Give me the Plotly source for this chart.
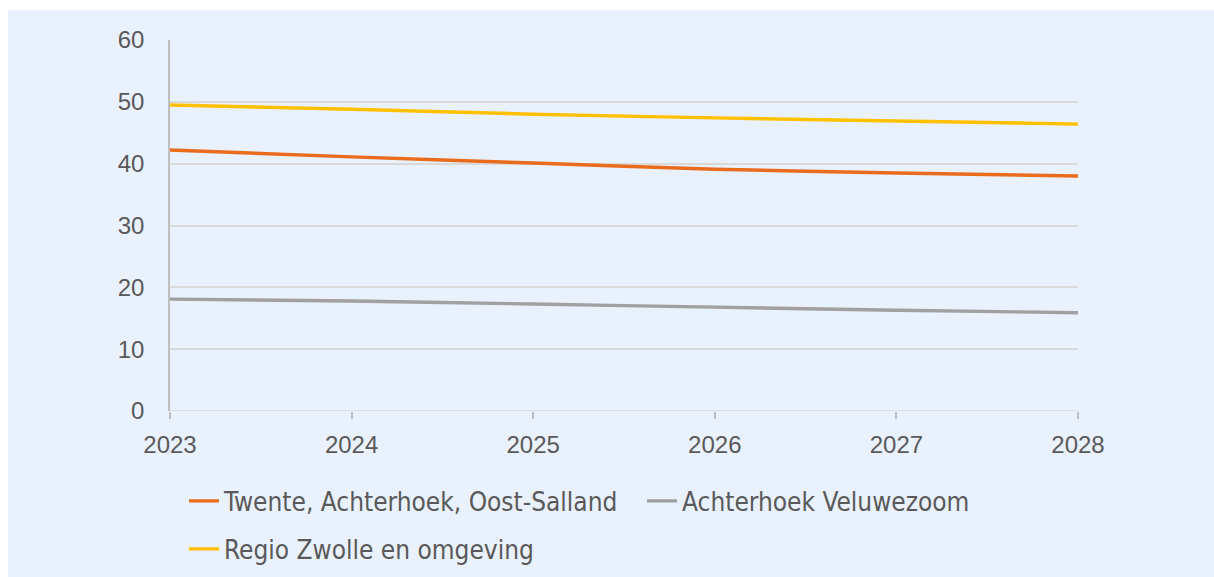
import plotly.graph_objects as go

years = [2023, 2024, 2025, 2026, 2027, 2028]
twente = [42.2, 41.1, 40.1, 39.1, 38.5, 38.0]
achterhoek_vz = [18.1, 17.8, 17.3, 16.8, 16.3, 15.9]
zwolle = [49.5, 48.8, 48.0, 47.4, 46.9, 46.4]

names = ["Twente, Achterhoek, Oost-Salland", "Achterhoek Veluwezoom", "Regio Zwolle en omgeving"]
colors = ["#EA6B1C", "#A0A0A0", "#FFC000"]
series = [twente, achterhoek_vz, zwolle]
legends = ["legend", "legend2", "legend3"]

OFF = 0  # page body margin removed via post_script
W, H = 1214, 577
L, R, T, B = 170, 1078, 40, 411
BG = "#E9F1FD"
TXT = "#595959"
LEGFONT = "DejaVu Sans Condensed, Liberation Sans Narrow, Arial Narrow, sans-serif"

fig = go.Figure()
for n, c, s, lg in zip(names, colors, series, legends):
    fig.add_trace(go.Scatter(x=years, y=s, name=n, mode="lines", legend=lg,
                             line=dict(color=c, width=3.4, shape="spline", smoothing=0.6)))

pw, ph = R - L, B - T
def px2x(p): return (p - OFF - L) / pw
def py2y(p): return (B - (p - OFF)) / ph

fig.add_shape(type="rect", xref="paper", yref="paper", layer="below",
              x0=px2x(8), x1=px2x(1214 + 30), y0=py2y(577 + 20), y1=py2y(10),
              fillcolor=BG, line=dict(width=0))

legfont = dict(family=LEGFONT, size=26, color=TXT)
def leg(xp, yp):
    return dict(orientation="h", x=px2x(xp), xanchor="left", y=py2y(yp), yanchor="middle",
                font=legfont, bgcolor="rgba(0,0,0,0)")

fig.update_layout(
    width=W, height=H,
    margin=dict(l=L, r=W - R, t=T, b=H - B, pad=0, autoexpand=False),
    paper_bgcolor="white", plot_bgcolor=BG,
    font=dict(family="Liberation Sans", color=TXT, size=24),
    showlegend=True,
    legend=leg(184, 501),
    legend2=leg(642, 501),
    legend3=leg(184, 549),
)
fig.update_xaxes(range=[2023, 2028], tickvals=years, ticktext=[str(y) for y in years],
                 showgrid=False, zeroline=False, showline=False,
                 ticks="outside", ticklen=7, tickcolor="#BFBFBF", tickwidth=1.5,
                 ticklabelstandoff=5, automargin=False,
                 tickfont=dict(size=24, color=TXT))
fig.update_yaxes(range=[0, 60], tickvals=[0, 10, 20, 30, 40, 50, 60],
                 showgrid=True, gridcolor="#D9D9D9", gridwidth=1.5,
                 zeroline=False, showline=True, linecolor="#BFBFBF", linewidth=1.5,
                 ticks="", ticklabelstandoff=19, automargin=False,
                 tickfont=dict(size=24, color=TXT))
fig.add_shape(type="line", xref="paper", yref="y", x0=0, x1=1, y0=0, y1=0,
              line=dict(color="#D9D9D9", width=1.5), layer="below")

fig.write_html("out.html", config={"displayModeBar": False},
               post_script="document.body.style.margin='0';document.body.style.overflow='hidden';")
